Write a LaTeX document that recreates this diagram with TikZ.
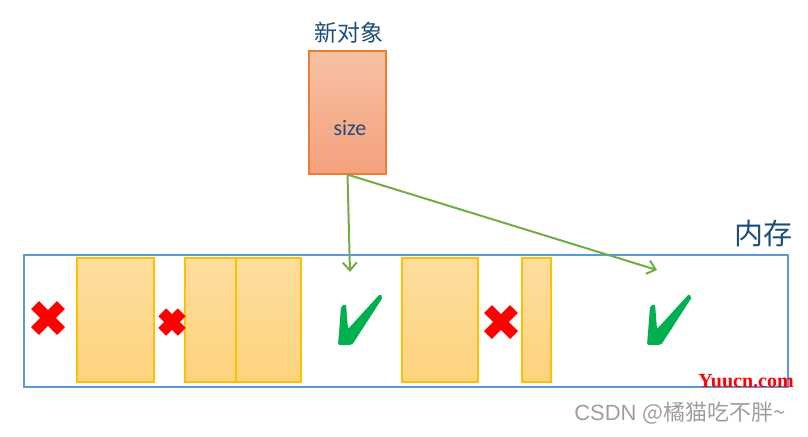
\documentclass[tikz,border=0pt]{standalone}
\usepackage{fontspec}
\setmainfont{Carlito}
\newfontfamily\cjk{Noto Sans CJK SC}
\newfontfamily\wmserif{Liberation Serif}
\newfontfamily\wmsans{Liberation Sans}
\usetikzlibrary{arrows.meta}

\definecolor{memblue}{HTML}{5B9BD5}
\definecolor{objedge}{HTML}{ED7D31}
\definecolor{objtop}{HTML}{F8C1A4}
\definecolor{objbot}{HTML}{F4A07C}
\definecolor{blkedge}{HTML}{FFC000}
\definecolor{blktop}{HTML}{FEDD9E}
\definecolor{blkbot}{HTML}{FDD37E}
\definecolor{ptrgreen}{HTML}{70AD47}
\definecolor{okgreen}{HTML}{00B050}
\definecolor{textblue}{HTML}{1F4E79}

\tikzset{
    block/.style={draw=blkedge, line width=0.6pt, top color=blktop, bottom color=blkbot,
                  minimum height=62pt, inner sep=0pt},
    wrongmark/.pic={\draw[red, line width=5.5pt] (-13,-13) -- (13,13) (-13,13) -- (13,-13);},
    rightmark/.pic={\fill[okgreen, rounded corners=1pt] (-15,-14) -- (-10,-16) -- (-8,9) -- (24,-26)
                    -- (27,-23) -- (-4,25) -- (-18,25) -- (-16,0) -- cycle;}
}

\begin{document}
\begin{tikzpicture}[x=0.5pt, y=-0.5pt]
        \useasboundingbox (0,0) rectangle (808,436);
        % memory
        \node [draw=memblue, line width=1pt, minimum width=382pt, minimum height=66pt, inner sep=0pt] (mem) at (406,321) {};
        \node [textblue, font=\cjk\fontsize{14.5}{16}\selectfont] (memlbl) at (763,233) {内存};
        \begin{scope}[every node/.style={block}]
                \node [minimum width=38.5pt] (b1) at (115.5,320) {};
                \node [minimum width=25.5pt] (b2) at (210.5,320) {};
                \node [minimum width=32.5pt] (b3) at (268.5,320) {};
                \node [minimum width=38pt] (b4) at (440,320) {};
                \node [minimum width=14.5pt] (b5) at (536.5,320) {};
        \end{scope}
        \pic at (48,318) {wrongmark};
        \pic [scale=0.75] at (172,322) {wrongmark};
        \pic at (501,322) {wrongmark};
        \pic at (356,320) {rightmark};
        \pic at (665,320) {rightmark};
        % new object
        \node [draw=objedge, line width=0.6pt, top color=objtop, bottom color=objbot,
               minimum width=38.5pt, minimum height=61.5pt, inner sep=0pt] (obj) at (347.5,112.5) {};
        \node [textblue, font=\cjk\fontsize{11.5}{13}\selectfont] (objlbl) at (349,33) {新对象};
        \node [textblue, font=\fontsize{11}{13}\selectfont] (sz) at (350,128) {size};
        \coordinate (slotA) at (350,272);
        \coordinate (slotB) at (657,270);
        \begin{scope}[every path/.style={ptrgreen, line width=1pt, -{Straight Barb[length=4pt,width=7pt]}}]
                \draw (obj.south) -- (slotA);
                \draw (obj.south) -- (slotB);
        \end{scope}
        % watermarks
        \node [red, font=\wmserif\bfseries\fontsize{10}{11}\selectfont] (wm1) at (746,381) {Yuucn.com};
        \node [black!38, font=\cjk\fontsize{11}{13}\selectfont] (wm2) at (680,413) {\wmsans CSDN \cjk @橘猫吃不胖\textasciitilde};
\end{tikzpicture}
\end{document}
